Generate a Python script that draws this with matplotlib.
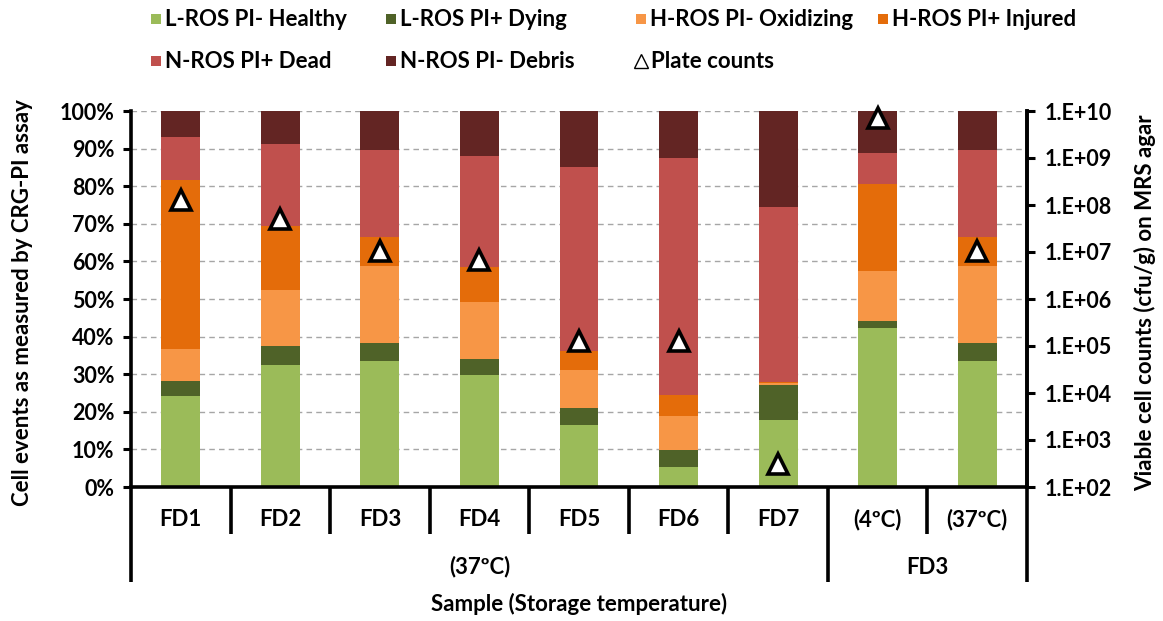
import matplotlib
matplotlib.use("Agg")
import matplotlib.pyplot as plt
import matplotlib.transforms as mtransforms
from matplotlib.patches import Rectangle
from matplotlib.lines import Line2D
from matplotlib.ticker import FixedLocator, FuncFormatter
import numpy as np

plt.rcParams['font.family'] = ['Lato', 'DejaVu Sans']
plt.rcParams['font.weight'] = 'bold'

# ---- data -------------------------------------------------------------
samples = ["FD1", "FD2", "FD3", "FD4", "FD5", "FD6", "FD7", "(4ºC)", "(37ºC)"]

healthy   = [24.1, 32.4, 33.4, 29.8, 16.6,  5.3, 17.9, 42.4, 33.4]
dying     = [ 4.2,  5.2,  4.8,  4.2,  4.5,  4.5,  9.1,  1.7,  4.8]
oxidizing = [ 8.4, 14.8, 20.5, 15.2, 10.1,  9.1,  0.6, 13.4, 20.5]
injured   = [44.9, 17.0,  7.7,  9.3,  5.1,  5.7,  0.4, 23.1,  7.7]
dead      = [11.6, 21.9, 23.2, 29.5, 48.8, 62.8, 46.4,  8.2, 23.2]
debris    = [ 6.8,  8.7, 10.4, 12.0, 14.9, 12.6, 25.6, 11.2, 10.4]

plate_counts = [1.3e8, 5.0e7, 1.07e7, 6.6e6, 1.3e5, 1.3e5, 3.1e2, 7.2e9, 1.07e7]

series_names = ["L-ROS PI- Healthy", "L-ROS PI+ Dying", "H-ROS PI- Oxidizing",
                "H-ROS PI+ Injured", "N-ROS PI+ Dead", "N-ROS PI- Debris"]
series_colors = ["#9BBB59", "#4F6228", "#F79646", "#E46C0A", "#C0504D", "#632523"]

group_labels = ["(37ºC)", "FD3"]
pct_ticks = list(range(0, 101, 10))
count_ticks = [1e2, 1e3, 1e4, 1e5, 1e6, 1e7, 1e8, 1e9, 1e10]

# ---- figure -------------------------------------------------------------
W, H = 1163, 621
fig = plt.figure(figsize=(W / 100, H / 100), dpi=100)

FS = 16
TICK_FS = 15.5

def fx(px):
    return px / W

def fy(py):
    return 1 - py / H

left_px, right_px, top_px, bottom_px = 131, 1027, 111, 487
ax = fig.add_axes([fx(left_px), fy(bottom_px),
                   fx(right_px) - fx(left_px), fy(top_px) - fy(bottom_px)])
axes_w = right_px - left_px
axes_h = bottom_px - top_px

x = np.arange(len(samples))
series = [healthy, dying, oxidizing, injured, dead, debris]
bottom = np.zeros(len(samples))
for vals, col in zip(series, series_colors):
    vals = np.array(vals)
    ax.bar(x, vals, width=0.39, bottom=bottom, color=col, linewidth=0, zorder=2)
    bottom += vals

ax.set_xlim(-0.5, len(samples) - 0.5)
ax.set_ylim(0, 100)
ax.set_yticks(pct_ticks)
ax.set_yticklabels([f"{t}%" for t in pct_ticks])
ax.set_axisbelow(True)
ax.yaxis.grid(True, color="#A6A6A6", linestyle=(0, (4, 3)), linewidth=1.0)
ax.set_xticks([])
ax.spines["top"].set_visible(False)
for s in ["left", "right", "bottom"]:
    ax.spines[s].set_linewidth(2.6)
    ax.spines[s].set_color("black")
ax.tick_params(axis="y", direction="out", length=6, width=2.2,
               labelsize=TICK_FS, pad=6)

ax.set_ylabel("Cell events as measured by CRG-PI assay", fontsize=FS,
              fontweight="bold")
ax.yaxis.set_label_coords((33 - left_px) / axes_w, 0.49)

# secondary log axis with plate counts
ax2 = ax.twinx()
ax2.set_yscale("log")
ax2.set_ylim(1e2, 1e10)
ax2.yaxis.set_major_locator(FixedLocator(count_ticks))
ax2.yaxis.set_minor_locator(FixedLocator([]))
ax2.yaxis.set_major_formatter(FuncFormatter(lambda v, p: "1.E+%02d" % round(np.log10(v))))
for s in ["top", "left", "bottom"]:
    ax2.spines[s].set_visible(False)
ax2.spines["right"].set_linewidth(2.6)
ax2.tick_params(axis="y", direction="out", length=6, width=2.2,
                labelsize=TICK_FS, pad=7)
ax2.plot(x, plate_counts, linestyle="none", marker="^", markersize=14.5,
         markerfacecolor="white", markeredgecolor="black", markeredgewidth=2.6,
         zorder=5, clip_on=False)
ax2.set_ylabel("Viable cell counts (cfu/g) on MRS agar", fontsize=FS,
               fontweight="bold")
ax2.yaxis.set_label_coords((1134 - left_px) / axes_w, 0.49)

# ---- category axis with grouped labels ---------------------------------
trans = mtransforms.blended_transform_factory(ax.transData, ax.transAxes)
short_drop = -(534 - bottom_px) / axes_h
long_drop = -(582 - bottom_px) / axes_h
for b in np.arange(0.5, len(samples) - 1, 1.0):
    drop = long_drop if b == 6.5 else short_drop
    ax.plot([b, b], [0, drop], color="black", lw=2.6, transform=trans,
            clip_on=False, solid_capstyle="butt")
for b in [-0.5, len(samples) - 0.5]:
    ax.plot([b, b], [0, long_drop], color="black", lw=2.6, transform=trans,
            clip_on=False, solid_capstyle="butt")

row1_y = -(520 - bottom_px) / axes_h
row2_y = -(567 - bottom_px) / axes_h
for xi, lab in zip(x, samples):
    ax.text(xi, row1_y, lab, transform=trans, ha="center", va="center",
            fontsize=FS, fontweight="bold")
ax.text(3.0, row2_y, group_labels[0], transform=trans, ha="center", va="center",
        fontsize=FS, fontweight="bold")
ax.text(7.5, row2_y, group_labels[1], transform=trans, ha="center", va="center",
        fontsize=FS, fontweight="bold")
fig.text(fx(579), fy(604), "Sample (Storage temperature)", ha="center", va="center",
         fontsize=FS, fontweight="bold")

# ---- legend ------------------------------------------------------------
legend_slots = [(156, 19), (391, 19), (641, 19), (883, 19), (156, 61), (391, 61)]
for (px, py), name, col in zip(legend_slots, series_names, series_colors):
    sq = 10
    fig.patches.append(Rectangle((fx(px - sq / 2), fy(py + sq / 2)), sq / W, sq / H,
                                 transform=fig.transFigure, color=col, lw=0))
    fig.text(fx(px + 9), fy(py), name, ha="left", va="center",
             fontsize=FS, fontweight="bold")
fig.lines.append(Line2D([fx(641)], [fy(61)], transform=fig.transFigure, marker="^",
                        markersize=10, markerfacecolor="white",
                        markeredgecolor="black", markeredgewidth=1.0, linestyle="none"))
fig.text(fx(651), fy(61), "Plate counts", ha="left", va="center",
         fontsize=FS, fontweight="bold")

fig.savefig("out.png", dpi=100)
